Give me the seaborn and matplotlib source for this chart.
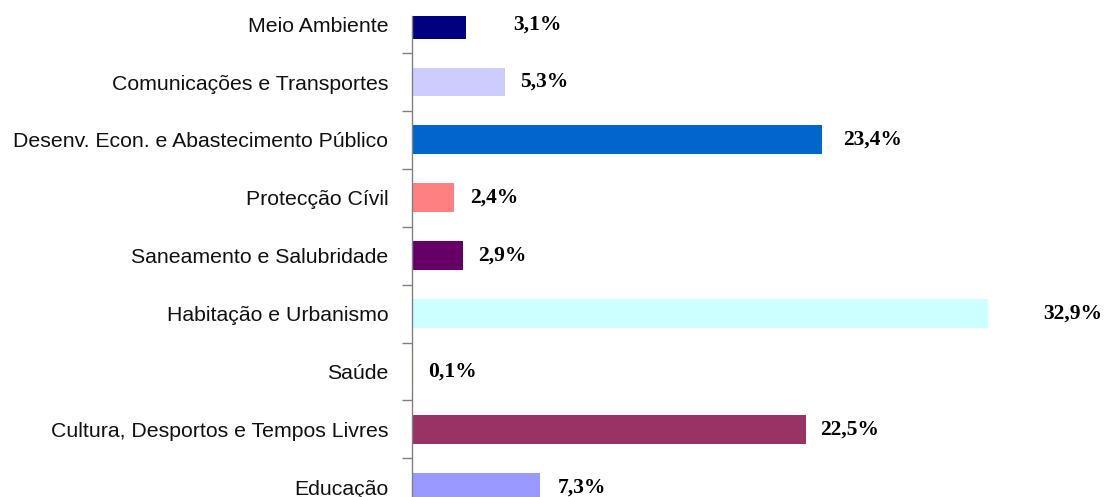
import matplotlib
matplotlib.use("Agg")
import matplotlib.pyplot as plt
import seaborn as sns
import pandas as pd
import numpy as np

categories = [
    "Meio Ambiente",
    "Comunicações e Transportes",
    "Desenv. Econ. e Abastecimento Público",
    "Protecção Cívil",
    "Saneamento e Salubridade",
    "Habitação e Urbanismo",
    "Saúde",
    "Cultura, Desportos e Tempos Livres",
    "Educação",
]
values = [3.1, 5.3, 23.4, 2.4, 2.9, 32.9, 0.1, 22.5, 7.3]
colors = ["#000080", "#CCCCFF", "#0066CC", "#FF8080", "#660066",
          "#CCFFFF", "#FFFFCC", "#993366", "#9999FF"]
# label gap after each bar end, in pixels (styling)
label_gap_px = [47, 15, 21, 16, 15, 55, 14, 14, 18]

sns.set_theme(style="white")
plt.rcParams["font.family"] = ["Liberation Sans", "DejaVu Sans"]

W, H, DPI = 1106, 497, 100
fig = plt.figure(figsize=(W / DPI, H / DPI), dpi=DPI)
fig.patch.set_facecolor("white")

# axes geometry in pixels
x_left = 412
px_per_unit = 17.51
xmax = 39
slot = 57.9
center0 = 24.1
y_top_data = -0.14
y_bot_data = 8.5
top_px = center0 + slot * y_top_data
bot_px = center0 + slot * y_bot_data
ax = fig.add_axes([x_left / W, (H - bot_px) / H,
                   xmax * px_per_unit / W, (bot_px - top_px) / H])

df = pd.DataFrame({"cat": categories, "val": values})
sns.barplot(data=df, x="val", y="cat", hue="cat", palette=colors,
            order=categories, hue_order=categories, width=0.5,
            legend=False, ax=ax, saturation=1, edgecolor="none")

ax.set_xlim(0, xmax)
ax.set_ylim(y_bot_data, y_top_data)
ax.set_xlabel("")
ax.set_ylabel("")
ax.set_xticks([])
for s in ["top", "right", "bottom"]:
    ax.spines[s].set_visible(False)
ax.spines["left"].set_color("#808080")
ax.spines["left"].set_linewidth(1.0)

ax.set_yticks(range(len(categories)))
ax.set_yticklabels(categories, fontsize=15.3, color="#111111")
ax.tick_params(axis="y", which="major", length=0, pad=17)
ax.set_yticks(np.arange(0.5, len(categories) - 0.5, 1.0), minor=True)
ax.tick_params(axis="y", which="minor", length=7, width=1.0, color="#808080", left=True)

for i, (v, g) in enumerate(zip(values, label_gap_px)):
    txt = f"{v:.1f}".replace(".", ",") + "%"
    ax.annotate(txt, xy=(v, i), xytext=(g * 72 / DPI, 0), textcoords="offset points",
                ha="left", va="center", fontsize=15.5, fontweight="bold",
                family=["Liberation Serif", "DejaVu Serif"], color="#000000",
                annotation_clip=False)

fig.savefig("out.png", dpi=DPI)
